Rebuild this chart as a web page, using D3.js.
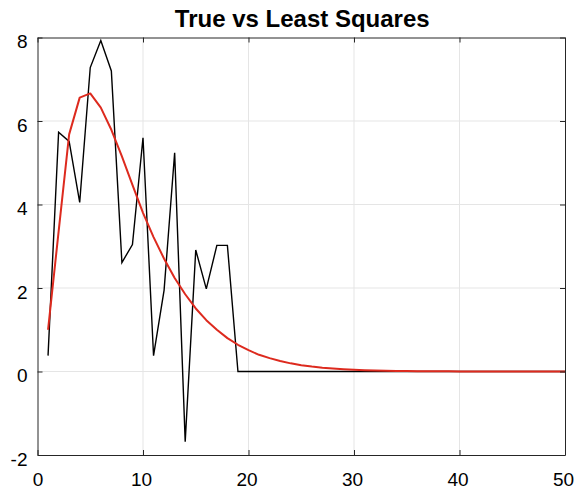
<!DOCTYPE html>
<html>
<head>
<meta charset="utf-8">
<script src="https://cdn.jsdelivr.net/npm/d3@7"></script>
<style>
  html, body { margin: 0; padding: 0; background: #fff; }
  svg text { font-family: "Liberation Sans", Arial, Helvetica, sans-serif; }
</style>
</head>
<body>
<svg id="chart" width="583" height="492"></svg>
<script>
// Sample index 1..50
const xs = d3.range(1, 51);

// Observed ("true") signal
const trueValues = [
  0.38, 5.73, 5.51, 4.05, 7.28, 7.93, 7.20, 2.61, 3.04, 5.60,
  0.38, 1.95, 5.24, -1.68, 2.91, 1.98, 3.02, 3.02, 0, 0,
  0, 0, 0, 0, 0, 0, 0, 0, 0, 0,
  0, 0, 0, 0, 0, 0, 0, 0, 0, 0,
  0, 0, 0, 0, 0, 0, 0, 0, 0, 0
];

// Least squares fit
const fitValues = [
  1.00, 3.35, 5.68, 6.56, 6.66, 6.32, 5.79, 5.15, 4.47, 3.80,
  3.22, 2.70, 2.24, 1.85, 1.51, 1.23, 1.00, 0.80, 0.64, 0.51,
  0.40, 0.32, 0.25, 0.195, 0.152, 0.118, 0.091, 0.070, 0.054, 0.041,
  0.031, 0.024, 0.018, 0.014, 0.010, 0.008, 0.006, 0.0045, 0.0034, 0.0025,
  0.0019, 0.0014, 0.0010, 0.0008, 0.0006, 0.0004, 0.0003, 0.0002, 0.0002, 0.0001
];

const xTicks = [0, 10, 20, 30, 40, 50];
const yTicks = [-2, 0, 2, 4, 6, 8];
const titleText = "True vs Least Squares";

(function draw() {
  const svg = d3.select("#chart");
  const W = 583, H = 492;
  const m = { top: 37.5, right: 18, bottom: 37, left: 37.5 };
  const iw = W - m.left - m.right;
  const ih = H - m.top - m.bottom;

  const x = d3.scaleLinear().domain([0, 50]).range([0, iw]);
  const y = d3.scaleLinear().domain([-2, 8]).range([ih, 0]);

  const g = svg.append("g").attr("transform", `translate(${m.left},${m.top})`);

  // Grid
  g.append("g").selectAll("line").data(xTicks.slice(1, -1)).join("line")
    .attr("x1", d => x(d)).attr("x2", d => x(d))
    .attr("y1", 0).attr("y2", ih)
    .attr("stroke", "#e5e5e5").attr("stroke-width", 1);
  g.append("g").selectAll("line").data(yTicks.slice(1, -1)).join("line")
    .attr("x1", 0).attr("x2", iw)
    .attr("y1", d => y(d)).attr("y2", d => y(d))
    .attr("stroke", "#e5e5e5").attr("stroke-width", 1);

  // Series
  const line = (vals) => d3.line().x((d, i) => x(xs[i])).y(d => y(d))(vals);

  g.append("path").attr("d", line(trueValues))
    .attr("fill", "none").attr("stroke", "#000").attr("stroke-width", 1.4)
    .attr("stroke-linejoin", "miter");

  g.append("path").attr("d", line(fitValues))
    .attr("fill", "none").attr("stroke", "#dd2a1e").attr("stroke-width", 2)
    .attr("stroke-linejoin", "round");

  // Axes: full box with inward ticks; plain hyphen for negatives
  const tickLen = 5;
  const axisColor = "#262626";
  const fmt = d => String(d);
  const axB = g.append("g").attr("transform", `translate(0,${ih})`)
    .call(d3.axisBottom(x).tickValues(xTicks).tickFormat(fmt)
      .tickSizeInner(-tickLen).tickSizeOuter(0).tickPadding(18));
  const axL = g.append("g")
    .call(d3.axisLeft(y).tickValues(yTicks).tickFormat(fmt)
      .tickSizeInner(-tickLen).tickSizeOuter(0).tickPadding(10));
  const axT = g.append("g")
    .call(d3.axisTop(x).tickValues(xTicks).tickSizeInner(-tickLen).tickSizeOuter(0).tickFormat(""));
  const axR = g.append("g").attr("transform", `translate(${iw},0)`)
    .call(d3.axisRight(y).tickValues(yTicks).tickSizeInner(-tickLen).tickSizeOuter(0).tickFormat(""));

  [axB, axL, axT, axR].forEach(a => {
    a.select(".domain").attr("stroke", axisColor).attr("stroke-width", 1);
    a.selectAll(".tick line").attr("stroke", axisColor).attr("stroke-width", 1);
    a.selectAll(".tick text").attr("fill", "#000").attr("font-size", 19)
      .attr("font-family", "'Liberation Sans', Arial, Helvetica, sans-serif");
  });
  axL.selectAll(".tick text").attr("dy", "0.55em");
  axB.selectAll(".tick text").attr("dx", d => (d >= 10 ? -2 : 0));

  // Title
  svg.append("text")
    .attr("x", m.left + iw / 2 + 1).attr("y", 27)
    .attr("text-anchor", "middle")
    .attr("font-size", 24).attr("font-weight", "bold")
    .attr("fill", "#000")
    .text(titleText);
})();
</script>
</body>
</html>
